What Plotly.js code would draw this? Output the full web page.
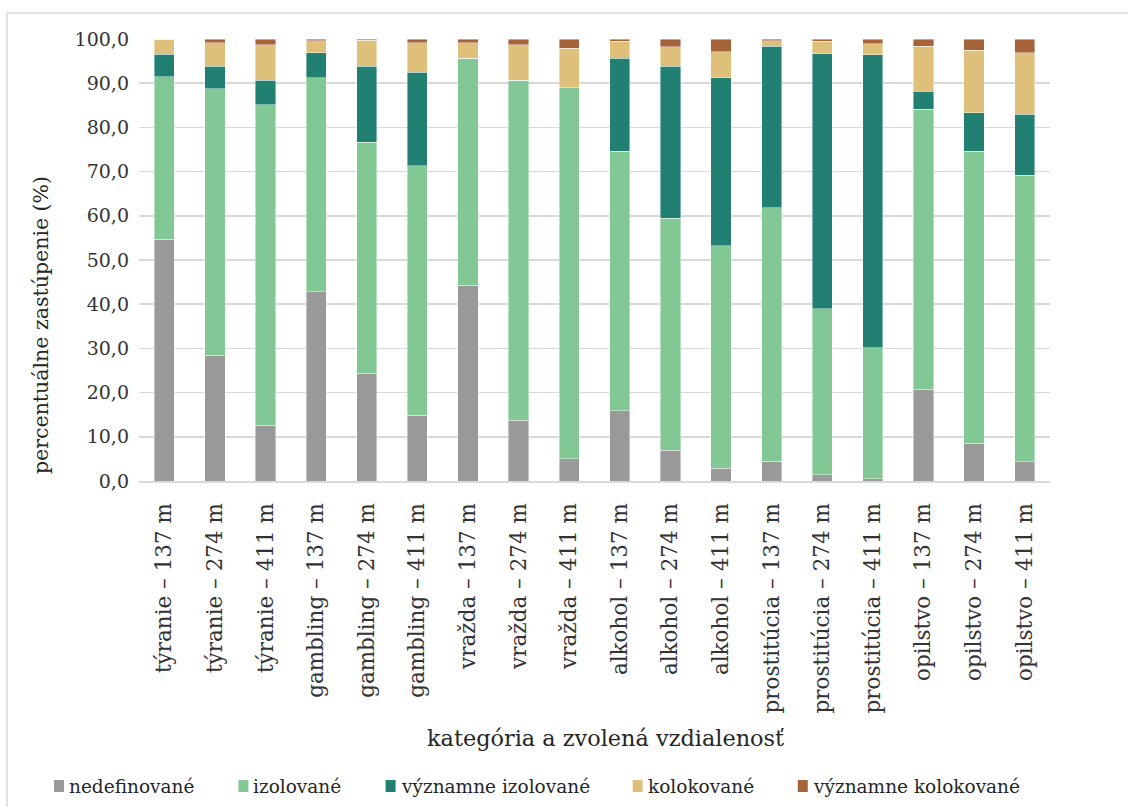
<!DOCTYPE html>
<html>
<head>
<meta charset="utf-8">
<script src="https://cdn.plot.ly/plotly-3.0.1.min.js"></script>
<style>
  html, body { margin: 0; padding: 0; background: #fff; }
  #chart { width: 1128px; height: 807px; }
</style>
</head>
<body>
<div id="chart"></div>
<script>
// Categories: offence type and chosen distance
const categories = [
  'týranie – 137 m', 'týranie – 274 m', 'týranie – 411 m',
  'gambling – 137 m', 'gambling – 274 m', 'gambling – 411 m',
  'vražda – 137 m', 'vražda – 274 m', 'vražda – 411 m',
  'alkohol – 137 m', 'alkohol – 274 m', 'alkohol – 411 m',
  'prostitúcia – 137 m', 'prostitúcia – 274 m', 'prostitúcia – 411 m',
  'opilstvo – 137 m', 'opilstvo – 274 m', 'opilstvo – 411 m'
];

// Share of each class (%) per category
const nedefinovane = [54.7, 28.5, 12.6, 42.8, 24.4, 14.9, 44.3, 13.8, 5.0, 15.9, 7.0, 2.9, 4.5, 1.4, 0.5, 20.8, 8.5, 4.4];
const izolovane = [36.8, 60.2, 72.5, 48.4, 52.2, 56.4, 51.3, 76.9, 84.0, 58.7, 52.5, 50.3, 57.3, 37.6, 29.7, 63.3, 66.1, 64.8];
const vyznamneIzolovane = [5.1, 5.1, 5.6, 5.7, 17.2, 21.2, 0.0, 0.0, 0.0, 21.0, 34.3, 38.0, 36.6, 57.7, 66.2, 4.1, 8.7, 13.8];
const kolokovane = [3.4, 5.4, 8.0, 2.7, 5.9, 6.7, 3.6, 8.0, 8.9, 3.9, 4.4, 5.9, 1.2, 2.8, 2.5, 10.2, 14.1, 13.9];
const vyznamneKolokovane = [0.0, 0.8, 1.3, 0.4, 0.3, 0.8, 0.8, 1.3, 2.1, 0.5, 1.8, 2.9, 0.4, 0.5, 1.1, 1.6, 2.6, 3.1];

const seriesNames = ['nedefinované', 'izolované', 'významne izolované', 'kolokované', 'významne kolokované'];
const seriesValues = [nedefinovane, izolovane, vyznamneIzolovane, kolokovane, vyznamneKolokovane];
const seriesColors = ['#999999', '#82c895', '#218072', '#dfc07a', '#a66238'];

const FONT = 'DejaVu Serif, Liberation Serif, serif';
const LEGEND_SIZE = 18.5;

const traces = seriesNames.map((name, i) => ({
  type: 'bar',
  name: name,
  x: categories,
  y: seriesValues[i],
  marker: { color: seriesColors[i], line: { color: 'rgba(255,255,255,0.7)', width: 0.6 } },
  hoverinfo: 'skip',
  showlegend: false
}));

// plot area in pixels: left 139, right 1050, top 39, bottom 481
const L = 139, R = 1050, T = 39, B = 481;
const px2x = p => (p - L) / (R - L);
const px2y = p => (B - p) / (B - T);

// Legend row below the axis title: small swatch, then the series name
const measure = document.createElement('canvas').getContext('2d');
measure.font = LEGEND_SIZE + 'px "DejaVu Serif"';
const legendShapes = [];
const legendLabels = [];
let cursor = 54;
const legendY = 786;
seriesNames.forEach((name, i) => {
  legendShapes.push({
    type: 'rect', xref: 'paper', yref: 'paper',
    x0: px2x(cursor), x1: px2x(cursor + 10),
    y0: px2y(legendY + 6), y1: px2y(legendY - 6),
    fillcolor: seriesColors[i], line: { width: 0 }
  });
  legendLabels.push({
    text: name, xref: 'paper', yref: 'paper',
    x: px2x(cursor + 13), y: px2y(legendY),
    xanchor: 'left', yanchor: 'middle', showarrow: false,
    font: { family: FONT, size: LEGEND_SIZE, color: '#262626' }
  });
  cursor += 10 + 5 + measure.measureText(name).width + 44;
});

const layout = {
  width: 1128,
  height: 807,
  margin: { l: L, r: 1128 - R, t: T, b: 807 - B, pad: 0 },
  paper_bgcolor: '#ffffff',
  plot_bgcolor: '#ffffff',
  barmode: 'stack',
  bargap: 0.6,
  separators: ', ',
  font: { family: FONT, color: '#333333', size: 19 },
  xaxis: {
    type: 'category',
    tickangle: -90,
    tickfont: { family: FONT, size: 21.5, color: '#333333' },
    showgrid: false,
    showline: true,
    linecolor: '#d9d9d9',
    linewidth: 1.5,
    ticks: '',
    ticklabelstandoff: 12,
    automargin: false
  },
  yaxis: {
    range: [0, 100],
    dtick: 10,
    tick0: 0,
    tickformat: '.1f',
    tickfont: { family: FONT, size: 19, color: '#333333' },
    showgrid: true,
    gridcolor: '#d9d9d9',
    gridwidth: 1.5,
    zeroline: false,
    showline: false,
    ticks: '',
    ticklabelstandoff: 9,
    automargin: false
  },
  showlegend: false,
  annotations: [
    {
      text: 'percentuálne zastúpenie (%)',
      xref: 'paper', yref: 'paper',
      x: px2x(41), y: px2y(325),
      xanchor: 'center', yanchor: 'middle',
      textangle: -90,
      showarrow: false,
      font: { family: FONT, size: 20.5, color: '#262626' }
    },
    {
      text: 'kategória a zvolená vzdialenosť',
      xref: 'paper', yref: 'paper',
      x: px2x(605), y: px2y(738),
      xanchor: 'center', yanchor: 'middle',
      showarrow: false,
      font: { family: FONT, size: 22.4, color: '#262626' }
    }
  ].concat(legendLabels),
  shapes: [
    {
      type: 'rect',
      xref: 'paper', yref: 'paper',
      x0: px2x(7), x1: px2x(1140),
      y0: px2y(820), y1: px2y(13),
      line: { color: '#d9d9d9', width: 1.5 },
      fillcolor: 'rgba(0,0,0,0)',
      layer: 'below'
    }
  ].concat(legendShapes)
};

Plotly.newPlot('chart', traces, layout, { staticPlot: true, displayModeBar: false });
</script>
</body>
</html>
